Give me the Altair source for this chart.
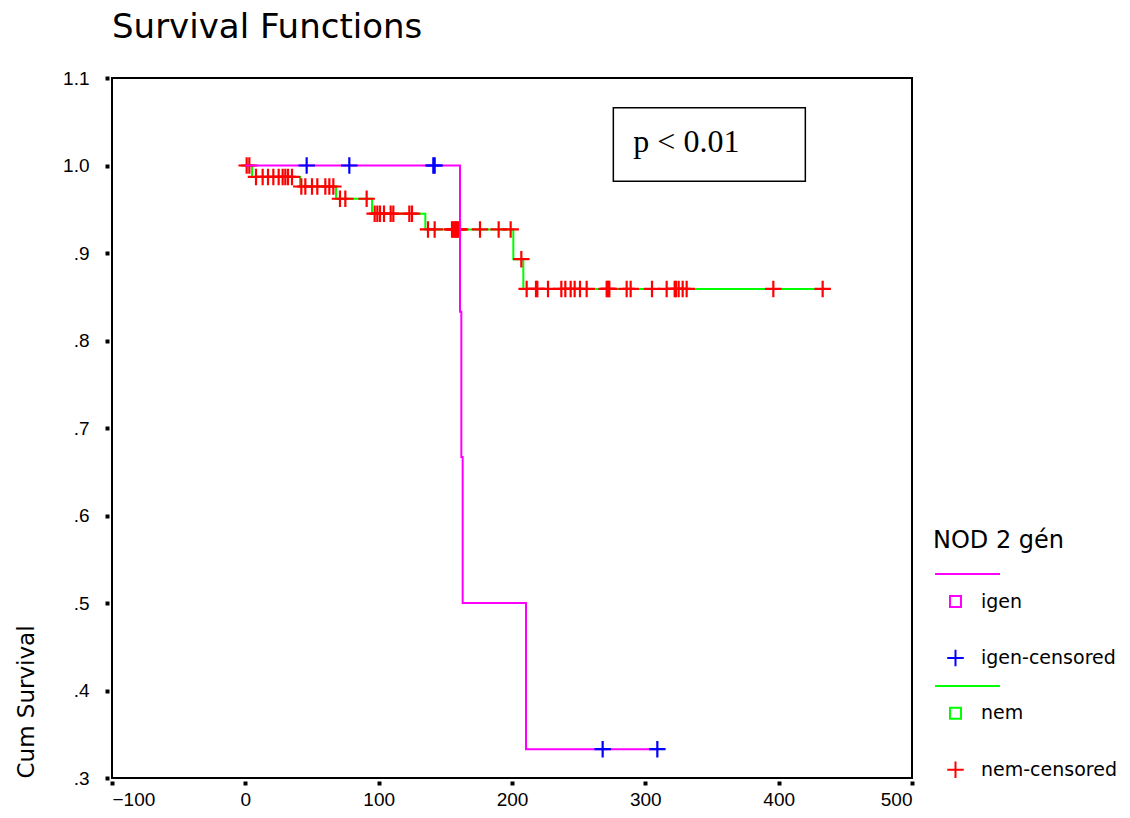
import altair as alt
import pandas as pd

# ---- data ----
igen_event_t = [0, 161, 162, 163, 210.5]
igen_surv = [1.0, 0.833, 0.667, 0.5, 0.333]
igen_end_t = 309
igen_cens_t = [46, 78, 141, 142, 268, 309]

nem_event_t = [0, 5, 41, 68, 95, 135, 201, 208.5]
nem_surv = [1.0, 0.987, 0.976, 0.962, 0.945, 0.927, 0.893, 0.859]
nem_end_t = 433
nem_cens_t = [1, 3,
              8, 13, 17, 21, 25, 28, 30, 32, 35,
              42, 45, 50, 54, 60, 63, 66,
              71, 75, 91,
              97, 99, 101, 104, 109, 111, 123, 125,
              137, 142, 155, 156, 157, 158, 159, 160, 161, 176, 190, 199,
              207,
              211, 218, 219, 227, 237, 240, 244, 247, 251, 256, 271, 272, 273,
              286, 289, 305, 316, 322, 323, 325, 328, 331, 396, 433]

legend_labels = ["igen", "igen-censored", "nem", "nem-censored"]
legend_colors = ["#FF00FF", "#0000FF", "#00FF00", "#FF0000"]
x_ticks = [-100, 0, 100, 200, 300, 400, 500]
y_ticks = [0.3, 0.4, 0.5, 0.6, 0.7, 0.8, 0.9, 1.0, 1.1]

p_box_x = [276, 420]
p_box_y = [0.982, 1.066]
p_text = "p < 0.01"
p_text_pos = [291, 1.0154]

PLUS = "M-1.5,0H1.5M0,-1.5V1.5"
legend_shapes = ["square", PLUS, "square", PLUS]


def step_frame(ts, ss, end_t):
    rows = [{"t": t, "s": s} for t, s in zip(ts, ss)]
    rows.append({"t": end_t, "s": ss[-1]})
    return pd.DataFrame(rows)


def surv_at(t, ts, ss):
    val = ss[0]
    for et, s in zip(ts, ss):
        if et <= t:
            val = s
    return val


igen_line = step_frame(igen_event_t, igen_surv, igen_end_t)
nem_line = step_frame(nem_event_t, nem_surv, nem_end_t)
igen_cens = pd.DataFrame({"t": igen_cens_t,
                          "s": [surv_at(t, igen_event_t, igen_surv) for t in igen_cens_t],
                          "kind": "igen-censored"})
nem_cens = pd.DataFrame({"t": nem_cens_t,
                         "s": [surv_at(t, nem_event_t, nem_surv) for t in nem_cens_t],
                         "kind": "nem-censored"})

xscale = alt.Scale(domain=[-100, 500], nice=False, zero=False)
yscale = alt.Scale(domain=[0.3, 1.1], nice=False, zero=False)

x_axis = alt.Axis(values=x_ticks, title=None, labelPadding=5)
y_axis = alt.Axis(values=y_ticks, title="Cum Survival", titleAnchor="start",
                  labelPadding=16, titlePadding=24,
                  labelExpr="datum.value >= 1 ? format(datum.value, '.1f') : slice(format(datum.value, '.1f'), 1)")


def X(field="t"):
    return alt.X(f"{field}:Q", scale=xscale, axis=x_axis)


def Y(field="s"):
    return alt.Y(f"{field}:Q", scale=yscale, axis=y_axis)


legend = alt.Legend(title="NOD 2 gén", orient="none", legendX=821, legendY=451,
                    titleFontSize=24, titleFont="DejaVu Sans", titleFontWeight="normal",
                    titleColor="black", titlePadding=39,
                    labelFontSize=19, labelFont="DejaVu Sans", labelColor="black",
                    symbolSize=121, symbolStrokeWidth=2, rowPadding=33.4,
                    labelOffset=16, symbolOffset=13)

color = alt.Color("kind:N", scale=alt.Scale(domain=legend_labels, range=legend_colors), legend=legend)
shape = alt.Shape("kind:N", scale=alt.Scale(domain=legend_labels, range=legend_shapes), legend=legend)

nem_l = alt.Chart(nem_line).mark_line(interpolate="step-after", color="#00FF00", strokeWidth=2).encode(
    x=X(), y=Y(), order="t:Q")
nem_p = alt.Chart(nem_cens).mark_point(filled=False, size=121, strokeWidth=2.2, opacity=1).encode(
    x=X(), y=Y(), color=color, shape=shape)
igen_l = alt.Chart(igen_line).mark_line(interpolate="step-after", color="#FF00FF", strokeWidth=2).encode(
    x=X(), y=Y(), order="t:Q")
igen_p = alt.Chart(igen_cens).mark_point(filled=False, size=121, strokeWidth=2.2, opacity=1).encode(
    x=X(), y=Y(), color=color, shape=shape)

box_df = pd.DataFrame({"x1": [p_box_x[0]], "x2": [p_box_x[1]], "y1": [p_box_y[0]], "y2": [p_box_y[1]]})
box = alt.Chart(box_df).mark_rect(fillOpacity=0, stroke="black", strokeWidth=1.5).encode(
    x=X("x1"), x2="x2:Q", y=Y("y1"), y2="y2:Q")
txt_df = pd.DataFrame({"x": [p_text_pos[0]], "y": [p_text_pos[1]], "label": [p_text]})
txt = alt.Chart(txt_df).mark_text(font="Liberation Serif", fontSize=32, align="left",
                                  baseline="alphabetic", color="black").encode(
    x=X("x"), y=Y("y"), text="label:N")

rule_igen = alt.Chart(box_df).mark_rule(color="#FF00FF", strokeWidth=2).encode(
    x=alt.value(823), x2=alt.value(888), y=alt.value(496))
rule_nem = alt.Chart(box_df).mark_rule(color="#00FF00", strokeWidth=2).encode(
    x=alt.value(823), x2=alt.value(888), y=alt.value(608))

chart = alt.layer(nem_l, nem_p, igen_l, igen_p, box, txt, rule_igen, rule_nem).properties(
    width=800, height=700,
    autosize="none",
    padding={"left": 104, "top": 70, "right": 210, "bottom": 32},
    title=alt.TitleParams("Survival Functions", anchor="start", frame="group",
                          font="DejaVu Sans", fontSize=34, fontWeight="normal",
                          color="black", offset=24),
).configure_view(stroke="black", strokeWidth=2).configure_axis(
    domain=False, grid=False, ticks=True, tickColor="black", tickSize=4, tickWidth=4,
    offset=3, labelFont="Liberation Sans", labelFontSize=19, labelColor="black",
    titleFont="DejaVu Sans", titleFontSize=23, titleFontWeight="normal", titleColor="black",
)

chart.save("out.html", embed_options={"renderer": "svg", "actions": False})
